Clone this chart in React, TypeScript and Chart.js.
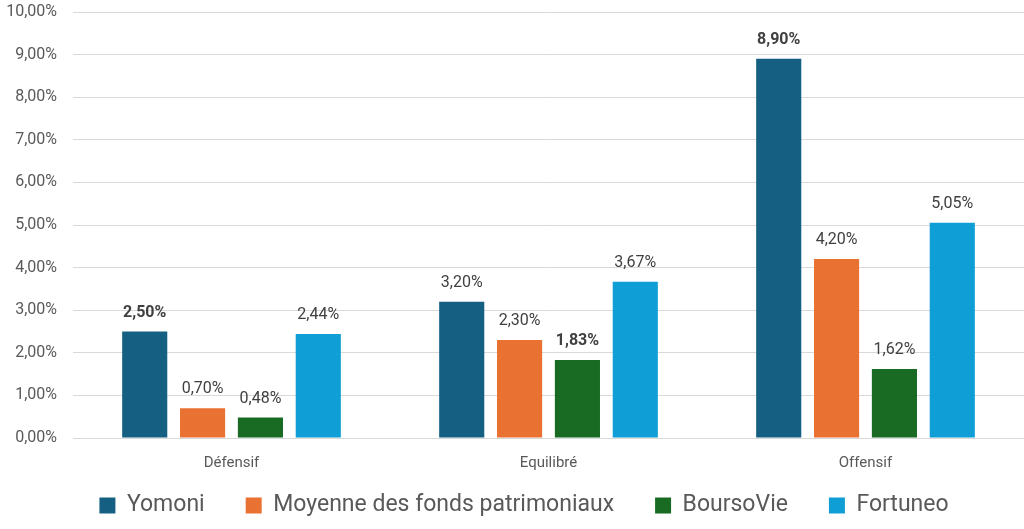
import { useEffect, useRef } from "react";
import { Chart, registerables } from "chart.js";

Chart.register(...registerables);

const categories = ["Défensif", "Equilibré", "Offensif"];
const seriesNames = ["Yomoni", "Moyenne des fonds patrimoniaux", "BoursoVie", "Fortuneo"];
const yomoni = [2.5, 3.2, 8.9];
const moyenne = [0.7, 2.3, 4.2];
const boursoVie = [0.48, 1.83, 1.62];
const fortuneo = [2.44, 3.67, 5.05];
const colors = ["#156082", "#E97132", "#196B24", "#0F9ED5"];
// [dataset index, category index] of labels shown in bold
const boldLabels = [
  [0, 0],
  [2, 1],
  [0, 2],
];

const FONT = "Roboto, 'Liberation Sans', sans-serif";
const fmt = (v: number) => v.toFixed(2).replace(".", ",") + "%";

const valueLabels = {
  id: "valueLabels",
  beforeInit(chart: any) {
    // the legend padding is also used between items; shrink the space it takes above
    const legend = chart.legend;
    if (!legend) return;
    const fit = legend.fit;
    legend.fit = function () {
      fit.call(this);
      this.height -= 29;
    };
    legend.draw = function () {
      const ctx = this.ctx;
      ctx.save();
      ctx.translate(12, -27);
      this._draw();
      ctx.restore();
    };
  },
  afterDatasetsDraw(chart: any) {
    const ctx = chart.ctx;
    ctx.save();
    ctx.textAlign = "center";
    ctx.textBaseline = "bottom";
    chart.data.datasets.forEach((ds: any, di: number) => {
      const meta = chart.getDatasetMeta(di);
      meta.data.forEach((bar: any, i: number) => {
        const bold = boldLabels.some(([d, c]) => d === di && c === i);
        ctx.font = `${bold ? "bold " : ""}16px ${FONT}`;
        ctx.fillStyle = "#404040";
        ctx.fillText(fmt(ds.data[i]), bar.x, bar.y - 11);
      });
    });
    ctx.restore();
  },
};

export default function App() {
  const canvasRef = useRef<HTMLCanvasElement>(null);

  useEffect(() => {
    document.body.style.margin = "0";
    if (!canvasRef.current) return;
    const values = [yomoni, moyenne, boursoVie, fortuneo];
    const chart = new Chart(canvasRef.current, {
      type: "bar",
      data: {
        labels: categories,
        datasets: seriesNames.map((name, i) => ({
          label: name,
          data: values[i],
          backgroundColor: colors[i],
          borderWidth: 0,
          barPercentage: 0.78,
          categoryPercentage: 0.73,
        })),
      },
      options: {
        animation: false,
        responsive: true,
        maintainAspectRatio: false,
        layout: { padding: { top: 12, right: 0, left: 0, bottom: 4 } },
        plugins: {
          tooltip: { enabled: false },
          legend: {
            position: "bottom",
            labels: {
              boxWidth: 16,
              boxHeight: 16,
              padding: 41,
              color: "#595959",
              font: { family: FONT, size: 23 },
            },
          },
        },
        scales: {
          x: {
            grid: { display: false },
            border: { display: false },
            ticks: {
              color: "#595959",
              font: { family: FONT, size: 15 },
              padding: 8,
            },
          },
          y: {
            min: 0,
            max: 10,
            grid: { color: "#d9d9d9", drawTicks: false },
            border: { display: false },
            afterFit: (scale: any) => {
              scale.width = 73;
              scale.paddingTop = 0;
              scale.paddingBottom = 0;
            },
            ticks: {
              stepSize: 1,
              padding: 16,
              color: "#595959",
              font: { family: FONT, size: 16 },
              callback: (v: any) => fmt(Number(v)),
            },
          },
        },
      },
      plugins: [valueLabels],
    });
    return () => chart.destroy();
  }, []);

  return (
    <div style={{ width: 1024, height: 529, background: "#fff" }}>
      <canvas ref={canvasRef} />
    </div>
  );
}
